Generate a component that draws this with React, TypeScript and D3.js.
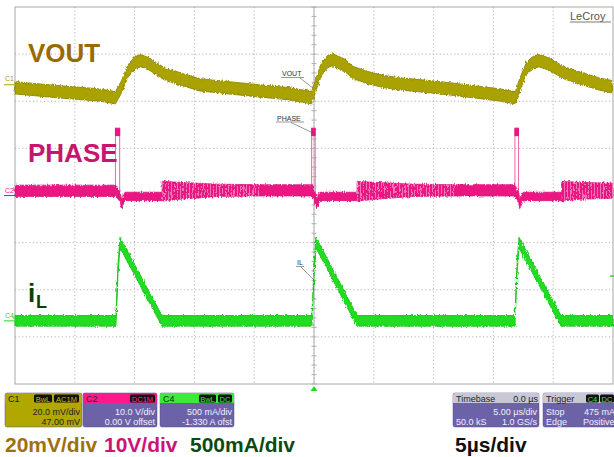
import * as d3 from 'd3';

const W = 614;
const H = 457;
const FONT = 'Liberation Sans, Arial, sans-serif';

// screen divisions: 10 x 5 µs horizontally, 8 vertically
const timeDivs = d3.range(-25, 25.01, 5);
const vertDivs = d3.range(-4, 4.01, 1);

// C1 VOUT (AC, 20 mV/div, 47 mV offset) — values in mV
const voutT = [-25.0, -21.3, -18.0, -16.6, -16.1, -15.6, -15.0, -14.5, -13.8, -12.5, -10.9, -9.6, -7.1, -4.6, -2.1, -0.2,
  0.25, 0.6, 1.1, 1.5, 2.5, 3.3, 4.6, 5.9, 7.1, 8.8, 11.3, 15.5, 16.8, 17.3, 17.8, 18.4, 18.8, 19.6, 20.9, 22.2, 23.8, 24.9];
const voutMv = [-1.3, -3.0, -4.3, -5.5, -0.9, 5.5, 9.3, 10.2, 8.9, 4.6, 2.1, 0, -1.3, -2.6, -3.8, -5.5,
  1.3, 6.3, 9.7, 10.6, 8.5, 5.1, 2.9, 1.3, 0.4, -0.4, -1.7, -4.3, -5.5, 1.3, 7.2, 9.7, 10.2, 8.9, 5.1, 2.9, 0.4, -0.8];
const voutNoise = 2.6;

// C2 PHASE (10 V/div) — values in V, with noise/ringing envelope
const phaseT = [-25, -16.6, -16.2, -16.1, -15.8, -12.7, -12.7, -11.2, -8.0, -4.6, -0.2,
  0.1, 0.2, 0.5, 3.6, 3.6, 5.1, 8.3, 11.7, 16.8,
  17.1, 17.2, 17.5, 20.7, 20.7, 22.2, 25];
const phaseV = [1.0, 1.0, -0.3, -1.8, -0.2, -0.2, 0.9, 1.0, 1.1, 1.1, 1.1,
  -0.3, -1.8, -0.2, -0.2, 0.9, 1.0, 1.1, 1.1, 1.1,
  -0.3, -1.8, -0.2, -0.2, 0.9, 1.0, 1.0];
const phaseEnv = [1.2, 1.2, 1.0, 1.0, 0.9, 0.9, 2.1, 1.8, 1.3, 1.2, 1.2,
  1.0, 1.0, 0.9, 0.9, 2.1, 1.8, 1.3, 1.2, 1.2,
  1.0, 1.0, 0.9, 0.9, 2.1, 1.8, 1.6];
const ringStart = [-12.7, 3.6, 20.7];
const ringEnd = [-4.6, 11.7, 25];
const pulseStart = [-16.6, -0.2, 16.8];
const pulseEnd = [-16.25, 0.1, 17.1];
const pulseTop = 14.3;

// C4 iL (500 mA/div, -1.330 A offset) — values in mA
const ilT = [-25, -16.56, -16.39, -16.22, -12.71, -0.17, 0.0, 0.17, 3.6, 16.8, 16.97, 17.14, 20.65, 25];
const ilMa = [0, 0, 540, 830, 0, 0, 540, 830, 0, 0, 540, 830, 0, 0];
const ilNoise = 56;

const x = d3.scaleLinear().domain([-25, 25]).range([15, 613]);
const yDiv = d3.scaleLinear().domain([-4, 4]).range([384, 7]);

const yC1 = (mv: number) => yDiv(47 / 20 + mv / 20);
const yC2 = (v: number) => yDiv(0 + v / 10);
const yC4 = (ma: number) => yDiv(-1330 / 500 + ma / 500);

type Pt = [number, number, number];

function band(pts: Pt[], y: (v: number) => number) {
  return d3.area<Pt>()
    .x(d => x(d[0]))
    .y0(d => y(d[1] - d[2]))
    .y1(d => y(d[1] + d[2]))(pts) || '';
}

function Tag({ x0, y0, w, text, color }: { x0: number; y0: number; w: number; text: string; color: string }) {
  return (
    <g>
      <rect x={x0} y={y0} width={w} height={8} rx={1.5} fill="#111" />
      <text x={x0 + w / 2} y={y0 + 7} fontSize={7.5} fill={color} textAnchor="middle" fontFamily={FONT}>{text}</text>
    </g>
  );
}

function Box({ x0, w, head, body, headText, headRight, lines, textColor, tags }: any) {
  return (
    <g fontFamily={FONT} fontSize={9}>
      <rect x={x0} y={393} width={w} height={34} rx={2} fill={body} stroke="#5a5090" strokeWidth={0.5} />
      <path d={`M${x0},403 V395 Q${x0},393 ${x0 + 2},393 H${x0 + w - 2} Q${x0 + w},393 ${x0 + w},395 V403 Z`} fill={head} />
      <text x={x0 + 3} y={401.5} fill="#222">{headText}</text>
      {headRight && <text x={x0 + w - 1} y={401.5} fill="#222" textAnchor="end">{headRight}</text>}
      {tags}
      {lines.map((l: any, i: number) => (
        <g key={i}>
          {l[0] && <text x={x0 + 3} y={415 + i * 10} fill={textColor}>{l[0]}</text>}
          {l[1] && <text x={x0 + w - 2} y={415 + i * 10} fill={textColor} textAnchor="end">{l[1]}</text>}
        </g>
      ))}
    </g>
  );
}

export default function App() {
  const voutPts: Pt[] = voutT.map((t, i) => [t, voutMv[i], voutNoise]);
  const phasePts: Pt[] = phaseT.map((t, i) => [t, phaseV[i], phaseEnv[i]]);
  const ilPts: Pt[] = ilT.map((t, i) => [t, ilMa[i], ilNoise]);
  const ringPts = ringStart.map((s, k) => phasePts.filter(p => p[0] >= s && p[0] <= ringEnd[k] && !(p[0] === s && p[2] < 1.5)));

  const cx = x(0);
  const cy = yDiv(0);
  const minorY = d3.range(-4, 4.01, 0.2);
  const minorX = d3.range(-25, 25.01, 1);

  const olive = '#aaa200';
  const pink = '#ea1682';
  const green = '#22dc22';

  return (
    <svg width={W} height={H} style={{ position: 'absolute', left: 0, top: 0, background: '#fff' }}>
      <defs>
        <filter id="noise" x="-5%" y="-20%" width="110%" height="140%">
          <feTurbulence type="fractalNoise" baseFrequency="0.9 0.25" numOctaves={2} seed={3} result="n" />
          <feDisplacementMap in="SourceGraphic" in2="n" scale={3.5} xChannelSelector="R" yChannelSelector="G" />
        </filter>
        <pattern id="ring" width={3} height={6} patternUnits="userSpaceOnUse">
          <rect x={0} y={0} width={1} height={6} fill="#fff" opacity={0.4} />
        </pattern>
      </defs>

      {/* grid */}
      <g>
        {timeDivs.slice(1, -1).map(t => (
          <line key={'v' + t} x1={x(t)} x2={x(t)} y1={yDiv(4)} y2={yDiv(-4)} stroke="#b4b4b4" strokeDasharray="1.2,2.4" />
        ))}
        {vertDivs.slice(1, -1).map(d => (
          <line key={'h' + d} x1={x(-25)} x2={x(25)} y1={yDiv(d)} y2={yDiv(d)} stroke="#b4b4b4" strokeDasharray="1.2,2.4" />
        ))}
        <line x1={cx} x2={cx} y1={yDiv(4)} y2={yDiv(-4)} stroke="#b0b0b0" />
        {minorY.map(d => (
          <line key={'my' + d} x1={cx - 2.5} x2={cx + 2.5} y1={yDiv(d)} y2={yDiv(d)} stroke="#b0b0b0" />
        ))}
        {minorX.map(t => (
          <line key={'mx' + t} x1={x(t)} x2={x(t)} y1={cy - 2} y2={cy + 2} stroke="#c4c4c4" />
        ))}
        <rect x={x(-25)} y={yDiv(4)} width={x(25) - x(-25)} height={yDiv(-4) - yDiv(4)} fill="none" stroke="#a8a8a8" />
      </g>

      {/* channel ground markers */}
      <g fontFamily={FONT} fontSize={7}>
        <text x={5} y={81} fill={olive}>C1</text>
        <line x1={4} x2={15} y1={yC1(0)} y2={yC1(0)} stroke={olive} />
        <text x={5} y={193} fill={pink}>C2</text>
        <line x1={4} x2={15} y1={yC2(0)} y2={yC2(0)} stroke={pink} />
        <text x={5} y={318} fill={green}>C4</text>
        <line x1={4} x2={15} y1={yC4(0)} y2={yC4(0)} stroke={green} />
      </g>

      {/* traces */}
      <path d={band(voutPts, yC1)} fill={olive} stroke="#8f8700" strokeWidth={0.9} filter="url(#noise)" />
      {pulseStart.map((s, i) => (
        <g key={'p' + i}>
          <path d={`M${x(s)},${yC2(1)} V${yC2(pulseTop)} H${x(pulseEnd[i])} V${yC2(-0.3)}`} fill="none" stroke="#f070b0" strokeWidth={1.1} />
          <rect x={x(s) - 0.5} y={yC2(pulseTop)} width={x(pulseEnd[i]) - x(s) + 1} height={yC2(pulseTop - 1.7) - yC2(pulseTop)} fill={pink} />
        </g>
      ))}
      <g filter="url(#noise)">
        <path d={band(phasePts, yC2)} fill={pink} stroke="#d8107a" strokeWidth={0.7} />
        {ringPts.map((r, k) => (
          <path key={'r' + k} d={band(r, yC2)} fill="url(#ring)" />
        ))}
      </g>
      <path d={band(ilPts, yC4)} fill={green} stroke="#18c418" strokeWidth={0.9} filter="url(#noise)" />

      {/* trigger markers */}
      <path d={`M${cx},386 L${cx + 3.5},391 L${cx - 3.5},391 Z`} fill={green} />
      <line x1={610} x2={614} y1={yC4(475)} y2={yC4(475)} stroke={green} strokeWidth={1.5} />

      {/* on-screen trace labels */}
      <g fontFamily={FONT} fontSize={7} fill="#333" stroke="none">
        <text x={282} y={76}>VOUT</text>
        <line x1={281} x2={304} y1={77.5} y2={77.5} stroke="#555" strokeWidth={0.6} />
        <line x1={300} x2={313} y1={78} y2={88} stroke="#555" strokeWidth={0.6} />
        <text x={277} y={120.5}>PHASE</text>
        <line x1={276} x2={304} y1={122} y2={122} stroke="#555" strokeWidth={0.6} />
        <line x1={291} x2={313} y1={122.5} y2={133} stroke="#555" strokeWidth={0.6} />
        <text x={297} y={265}>IL</text>
        <line x1={296} x2={304} y1={266.5} y2={266.5} stroke="#555" strokeWidth={0.6} />
        <line x1={301} x2={314} y1={267} y2={280} stroke="#555" strokeWidth={0.6} />
      </g>

      <text x={570} y={20} fontFamily={FONT} fontSize={11} fill="#555">LeCroy</text>
      <line x1={570} x2={611} y1={22} y2={22} stroke="#555" strokeWidth={0.8} />

      {/* big channel labels */}
      <g fontFamily={FONT} fontWeight="bold">
        <text x={28} y={62} fontSize={26} fill="#9a6a00">VOUT</text>
        <text x={28} y={162} fontSize={26} fill="#c8166e">PHASE</text>
        <text x={28} y={302} fontSize={26} fill="#0a3f0a">i</text>
        <text x={36} y={308} fontSize={18} fill="#0a3f0a">L</text>
      </g>

      {/* info boxes */}
      <Box x0={5} w={77} head="#b0a800" body="#b0a800" headText="C1" textColor="#222"
        lines={[[null, '20.0 mV/div'], [null, '47.00 mV']]}
        tags={<><Tag x0={34} y0={394.5} w={18} text="BwL" color="#c8c000" /><Tag x0={54} y0={394.5} w={25} text="AC1M" color="#c8c000" /></>} />
      <Box x0={83} w={74} head="#ff1a8c" body="#6c62a8" headText="C2" textColor="#f0f0ff"
        lines={[[null, '10.0 V/div'], [null, '0.00 V offset']]}
        tags={<Tag x0={130} y0={394.5} w={25} text="DC1M" color="#ff3399" />} />
      <Box x0={160} w={74} head="#38ec38" body="#6c62a8" headText="C4" textColor="#f0f0ff"
        lines={[[null, '500 mA/div'], [null, '-1.330 A ofst']]}
        tags={<><Tag x0={199} y0={394.5} w={17} text="BwL" color="#38ec38" /><Tag x0={218} y0={394.5} w={14} text="DC" color="#38ec38" /></>} />
      <Box x0={453} w={86} head="#c8c8d4" body="#6c62a8" headText="Timebase" headRight="0.0 µs" textColor="#f0f0ff"
        lines={[[null, '5.00 µs/div'], ['50.0 kS', '1.0 GS/s']]} />
      <Box x0={543} w={80} head="#c8c8d4" body="#6c62a8" headText="Trigger" textColor="#f0f0ff"
        lines={[['Stop', null], ['Edge', null]]}
        tags={<><Tag x0={586} y0={394.5} w={13} text="C4" color="#38ec38" /><Tag x0={600} y0={394.5} w={14} text="DC" color="#38ec38" /></>} />
      <g fontFamily={FONT} fontSize={9} fill="#f0f0ff">
        <text x={584} y={415}>475 mA</text>
        <text x={583} y={425}>Positive</text>
      </g>

      {/* bottom scale legend */}
      <g fontFamily={FONT} fontWeight="bold" fontSize={21}>
        <text x={5} y={452} fill="#a0700f">20mV/div</text>
        <text x={104} y={452} fill="#cc1477">10V/div</text>
        <text x={190} y={452} fill="#0b4a12">500mA/div</text>
        <text x={455} y={452} fill="#111">5µs/div</text>
      </g>
    </svg>
  );
}
